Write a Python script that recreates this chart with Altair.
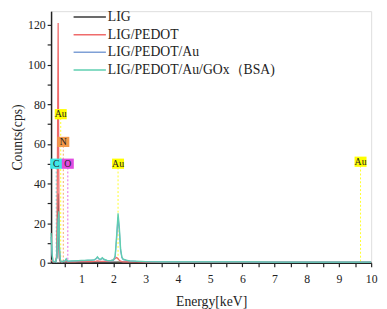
import altair as alt
import pandas as pd

# ---- data ----
energy = [0.06, 0.09, 0.12, 0.15, 0.18, 0.21, 0.24, 0.26, 0.28, 0.30, 0.32, 0.35,
          0.38, 0.41, 0.44, 0.47, 0.50, 0.53, 0.56, 0.60, 0.70, 0.80, 0.90, 1.00,
          1.10, 1.20, 1.30, 1.40, 1.46, 1.50, 1.55, 1.60, 1.65, 1.70, 1.80, 1.90,
          2.00, 2.05, 2.10, 2.14, 2.18, 2.22, 2.26, 2.30, 2.40, 2.50, 2.70, 3.00,
          3.50, 4.00, 4.50, 5.00, 5.50, 6.00, 6.50, 7.00, 7.50, 8.00, 8.50, 9.00,
          9.50, 10.00]

lig = [1.0, 0.5, 0.3, 0.3, 0.4, 0.8, 3.0, 18.0, 35.0, 12.0, 2.0, 0.5,
       0.3, 0.4, 0.5, 0.4, 0.5, 0.6, 0.4, 0.3, 0.3, 0.3, 0.3, 0.3,
       0.3, 0.3, 0.3, 0.3, 0.3, 0.3, 0.3, 0.3, 0.3, 0.3, 0.3, 0.3,
       0.3, 0.3, 0.3, 0.3, 0.3, 0.3, 0.3, 0.3, 0.3, 0.3, 0.2, 0.2,
       0.2, 0.2, 0.2, 0.2, 0.2, 0.2, 0.2, 0.2, 0.2, 0.2, 0.2, 0.2,
       0.2, 0.2]

pedot = [1.5, 0.8, 0.4, 0.4, 0.5, 1.0, 5.0, 60.0, 121.0, 40.0, 3.0, 0.8,
         0.5, 0.6, 0.8, 0.6, 0.7, 0.9, 0.6, 0.5, 0.5, 0.5, 0.6, 0.6,
         0.6, 0.6, 0.6, 0.7, 0.8, 0.9, 0.8, 0.7, 0.7, 0.7, 0.8, 1.0,
         1.5, 2.2, 2.6, 2.0, 1.2, 0.8, 0.6, 0.5, 0.5, 0.4, 0.4, 0.3,
         0.3, 0.3, 0.3, 0.3, 0.3, 0.3, 0.3, 0.3, 0.3, 0.3, 0.3, 0.3,
         0.3, 0.3]

pedot_au = [13.0, 4.0, 0.8, 0.5, 0.6, 1.0, 2.5, 10.0, 22.0, 24.0, 7.0, 1.2,
            0.6, 0.6, 0.8, 0.7, 1.0, 1.8, 0.9, 0.7, 0.8, 0.9, 1.0, 1.1,
            1.1, 1.2, 1.2, 1.4, 2.0, 2.7, 1.8, 1.6, 2.3, 1.6, 1.1, 1.0,
            1.3, 3.0, 13.0, 23.0, 16.0, 6.0, 2.5, 1.6, 1.2, 0.9, 0.7, 0.6,
            0.5, 0.5, 0.4, 0.4, 0.4, 0.4, 0.3, 0.3, 0.3, 0.3, 0.3, 0.3,
            0.3, 0.3]

pedot_au_gox = [15.0, 5.0, 0.9, 0.5, 0.6, 1.0, 3.0, 12.0, 20.0, 26.0, 8.0, 1.3,
                0.6, 0.6, 0.8, 0.8, 1.2, 2.0, 1.0, 0.8, 0.9, 1.0, 1.1, 1.2,
                1.2, 1.3, 1.3, 1.5, 2.2, 3.0, 2.0, 1.7, 2.6, 1.8, 1.2, 1.1,
                1.4, 3.5, 15.0, 25.0, 18.0, 7.0, 2.8, 1.8, 1.3, 1.0, 0.8, 0.6,
                0.5, 0.5, 0.4, 0.4, 0.4, 0.4, 0.4, 0.3, 0.3, 0.3, 0.3, 0.3,
                0.3, 0.3]

series_names = ["LIG", "LIG/PEDOT", "LIG/PEDOT/Au", "LIG/PEDOT/Au/GOx（BSA)"]
series_values = [lig, pedot, pedot_au, pedot_au_gox]
series_colors = ["#3a3a3a", "#ef6b6b", "#7fa0d6", "#5fcfb0"]

# element markers
el_names = ["Au", "N", "C", "O", "Au", "Au"]
el_keys = ["Au1", "N", "C", "O", "Au2", "Au3"]
el_energy = [0.36, 0.44, 0.22, 0.58, 2.14, 9.67]
el_height = [75, 61, 50, 50, 50, 51]
el_types = ["Au", "N", "C", "O"]
el_colors = ["#ffff00", "#f39a4a", "#3fe6e6", "#e04ce0"]

x_ticks = [0.5, 1, 1.5, 2, 2.5, 3, 3.5, 4, 4.5, 5, 5.5, 6, 6.5, 7, 7.5, 8, 8.5, 9, 9.5, 10]
y_ticks = [0, 10, 20, 30, 40, 50, 60, 70, 80, 90, 100, 110, 120]

# ---- tables ----
rows = []
for name, vals in zip(series_names, series_values):
    for e, v in zip(energy, vals):
        rows.append({"energy": e, "counts": v, "series": name})
spec = pd.DataFrame(rows)

marks = pd.DataFrame({"label": el_names, "key": el_keys,
                      "energy": el_energy, "height": el_height})

FONT = "Times New Roman, Liberation Serif, serif"
xscale = alt.Scale(domain=[0.06, 10], nice=False, zero=False)
yscale = alt.Scale(domain=[0, 127], nice=False, zero=False)
elcolor = alt.Scale(domain=el_types, range=el_colors)

xaxis = alt.Axis(
    values=x_ticks,
    labelExpr="datum.value % 1 == 0 ? toString(datum.value) : ''",
    labelOverlap=False, tickSize=4,
    title="Energy[keV]", titlePadding=11, labelPadding=7, labelFlush=False, grid=False)

yaxis = alt.Axis(
    values=y_ticks, format="d",
    labelExpr="datum.value % 20 == 0 ? datum.label : ''",
    labelOverlap=False, tickSize=4,
    title="Counts(cps)", titlePadding=3, labelPadding=2, grid=False)

lines = alt.Chart(spec).mark_line(strokeWidth=1.3, interpolate="linear").encode(
    x=alt.X("energy:Q", scale=xscale, axis=xaxis),
    y=alt.Y("counts:Q", scale=yscale, axis=yaxis),
    color=alt.Color("series:N", scale=alt.Scale(domain=series_names, range=series_colors),
                    sort=series_names,
                    legend=alt.Legend(title=None, orient="none", legendX=22, legendY=-1,
                                      padding=0, clipHeight=14,
                                      symbolType="stroke", symbolSize=1089,
                                      symbolStrokeWidth=1.5, labelFont=FONT,
                                      labelFontSize=14, labelColor="#222",
                                      labelLimit=0, rowPadding=4, labelOffset=1)),
    detail="series:N",
)

rules = alt.Chart(marks).mark_rule(strokeDash=[2, 2], strokeWidth=1, opacity=0.85).encode(
    x=alt.X("energy:Q", scale=xscale, axis=xaxis),
    y=alt.Y("height:Q", scale=yscale, axis=yaxis),
    y2=alt.datum(0),
    color=alt.Color("label:N", scale=elcolor, legend=None),
)

boxes = alt.Chart(marks).mark_point(
    shape="M-1,-0.85L1,-0.85L1,0.85L-1,0.85Z", filled=True, size=150, opacity=1
).encode(
    x=alt.X("energy:Q", scale=xscale, axis=xaxis),
    y=alt.Y("height:Q", scale=yscale, axis=yaxis),
    color=alt.Color("label:N", scale=elcolor, legend=None),
)

texts = alt.Chart(marks).mark_text(font=FONT, fontSize=10, color="#222",
                                   align="center", baseline="middle").encode(
    x=alt.X("energy:Q", scale=xscale, axis=xaxis),
    y=alt.Y("height:Q", scale=yscale, axis=yaxis),
    text="label:N",
)

chart = alt.layer(rules, lines, boxes, texts).resolve_scale(color="independent").properties(
    width=327, height=257,
    autosize=alt.AutoSizeParams(type="none"),
    padding={"left": 44, "top": 0, "right": 8, "bottom": 44},
).configure_view(stroke="#444", strokeWidth=1.5).configure(
    background="white"
).configure_axis(
    labelFont=FONT, titleFont=FONT, labelFontSize=12, titleFontSize=14,
    titleFontWeight="normal", labelColor="#222", titleColor="#222",
    domainColor="#222", tickColor="#222", domainWidth=1.5, tickWidth=1.2,
)

chart.save("out.html", embed_options={"renderer": "svg", "actions": False})
